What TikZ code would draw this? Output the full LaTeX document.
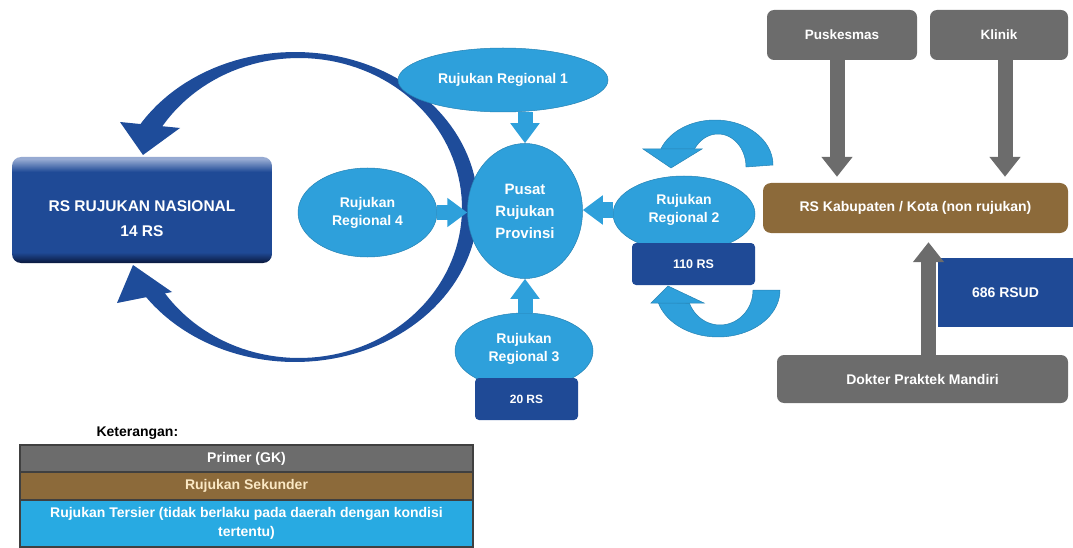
\documentclass[tikz,border=0pt]{standalone}
\usepackage{fontspec}
\setmainfont{Liberation Sans}
\usetikzlibrary{shapes.geometric,arrows.meta}
\definecolor{lb}{RGB}{46,160,219}
\definecolor{db}{RGB}{31,74,150}
\definecolor{arcblue}{RGB}{30,76,154}
\definecolor{gr}{RGB}{108,108,108}
\definecolor{br}{RGB}{140,106,58}
\definecolor{legcyan}{RGB}{40,170,226}
\definecolor{cream}{RGB}{250,232,196}
\definecolor{nastop}{RGB}{150,170,210}
\definecolor{nasbot}{RGB}{10,24,60}
\pgfdeclareverticalshading{nasshade}{100bp}{color(0bp)=(nasbot); color(25bp)=(nasbot); color(30bp)=(db); color(68bp)=(db); color(74bp)=(nastop); color(100bp)=(nastop)}
\tikzset{
  txt/.style={text=white, font=\bfseries\fontsize{14}{18}\selectfont, align=center},
  lbell/.style={ellipse, fill=lb, draw=lb!82!black, line width=0.5pt, inner sep=0pt, txt},
  dbbox/.style={rectangle, rounded corners=4pt, fill=db, inner sep=0pt, txt},
  grbox/.style={rectangle, rounded corners=7pt, fill=gr, inner sep=0pt, txt},
  lbarrow/.style={draw=lb, line width=15pt, -{Triangle[width=28pt,length=20pt]}},
  grarrow/.style={draw=gr, line width=15pt, -{Triangle[width=30pt,length=20pt]}},
  legrow/.style={rectangle, draw=black!75, line width=1.2pt, minimum width=453pt, inner sep=0pt, txt},
  curvefill/.style={fill=lb, draw=lb!82!black, line width=0.5pt}
}
\begin{document}
\begin{tikzpicture}[x=1pt,y=-1pt]
\useasboundingbox (0,0) rectangle (1073,548);

% big ring arrows
\fill[arcblue] plot[domain=-149:148,samples=120,variable=\t] ({295+183*cos(\t)},{207+155*sin(\t)})
  -- plot[domain=148:-149,samples=120,variable=\t] ({299+163*cos(\t)},{208+150*sin(\t)}) -- cycle;
\fill[arcblue] (120,122) -- (180,128) -- (143,155) -- cycle;
\fill[arcblue] (117,303) -- (172,292) -- (133,265) -- cycle;

% national box
\node[shade, shading=nasshade, rounded corners=9pt, minimum width=260pt, minimum height=106pt, inner sep=0pt] (nas) at (142,210) {};
\node[txt, font=\bfseries\fontsize{15.5}{25}\selectfont] (nastxt) at ([yshift=-9pt]nas.center) {RS RUJUKAN NASIONAL\\14 RS};

% curved arrows near regional 2
\path[curvefill] plot[domain=0:-162,samples=40,variable=\t] ({715+58*cos(\t)},{165+45*sin(\t)})
  -- plot[domain=-150:0,samples=40,variable=\t] ({718+28*cos(\t)},{167+33*sin(\t)}) -- cycle;
\path[curvefill] (643,149) -- (702,149) -- (671,168) -- cycle;
\path[curvefill] plot[domain=0:165,samples=40,variable=\t] ({718+62*cos(\t)},{290+47*sin(\t)})
  -- plot[domain=158:0,samples=40,variable=\t] ({720+33*cos(\t)},{290+35*sin(\t)}) -- cycle;
\path[curvefill] (651,303) -- (704,303) -- (668,286) -- cycle;

% regional ellipses and boxes
\node[lbell, minimum width=210pt, minimum height=64pt] (r1) at (503,80) {Rujukan Regional 1};
\node[lbell, minimum width=139pt, minimum height=89pt] (r4) at (367.5,212.5) {Rujukan\\Regional 4};
\node[lbell, minimum width=142pt, minimum height=76pt] (r2) at (684,214) {};
\node[txt] (r2t) at (684,210) {Rujukan\\Regional 2};
\node[dbbox, minimum width=123pt, minimum height=42pt, font=\bfseries\fontsize{12.5}{15}\selectfont] (rs110) at (693.5,264) {110 RS};
\node[lbell, minimum width=138pt, minimum height=76pt] (r3) at (524,351) {};
\node[txt] (r3t) at (524,349) {Rujukan\\Regional 3};
\node[dbbox, minimum width=103pt, minimum height=42pt, font=\bfseries\fontsize{12}{15}\selectfont] (rs20) at (526.5,399) {20 RS};
\node[lbell, minimum width=115pt, minimum height=135pt, font=\bfseries\fontsize{15}{22}\selectfont] (pusat) at (525,211) {Pusat\\Rujukan\\Provinsi};

% arrows into the centre
\draw[lbarrow] (pusat.north |- r1.south) -- (pusat.north);
\draw[lbarrow] (r4.east) -- (r4.east -| pusat.west);
\draw[lbarrow] (r2.west |- r2t.center) -- (r2t.center -| pusat.east);
\draw[lbarrow] (pusat.south |- r3.north) -- (pusat.south);

% right part
\node[grbox, minimum width=150pt, minimum height=50pt, font=\bfseries\fontsize{13.5}{16}\selectfont] (pusk) at (842,35) {Puskesmas};
\node[grbox, minimum width=138pt, minimum height=50pt, font=\bfseries\fontsize{13.5}{16}\selectfont] (klin) at (999,35) {Klinik};
\node[rectangle, rounded corners=8pt, fill=br, inner sep=0pt, txt, minimum width=305pt, minimum height=50pt] (kab) at (915.5,208) {RS Kabupaten / Kota (non rujukan)};
\node[rectangle, fill=db, inner sep=0pt, txt, minimum width=135pt, minimum height=69pt] (rsud) at (1005.5,292.5) {686 RSUD};
\node[grbox, minimum width=291pt, minimum height=48pt] (dok) at (922.5,379) {Dokter Praktek Mandiri};

\coordinate (pa) at ([xshift=-5pt]pusk.south);
\coordinate (ka) at ([xshift=6pt]klin.south);
\coordinate (da) at ([xshift=6pt]dok.north);
\draw[grarrow, shorten >=6pt] (pa) -- (pa |- kab.north);
\draw[grarrow, shorten >=6pt] (ka) -- (ka |- kab.north);
\draw[grarrow, shorten >=9pt] (da) -- (da |- kab.south);

% legend
\node[anchor=west, font=\bfseries\fontsize{14}{17}\selectfont] (ket) at (93,433) {Keterangan:};
\node[legrow, fill=gr, minimum height=27pt] (lp) at (246.5,458.5) {Primer (GK)};
\node[legrow, fill=br, text=cream, minimum height=28pt] (ls) at (246.5,486) {Rujukan Sekunder};
\node[legrow, fill=legcyan, minimum height=47pt, font=\bfseries\fontsize{14}{19}\selectfont] (lt) at (246.5,523.5) {Rujukan Tersier (tidak berlaku pada daerah dengan kondisi\\tertentu)};
\end{tikzpicture}
\end{document}
